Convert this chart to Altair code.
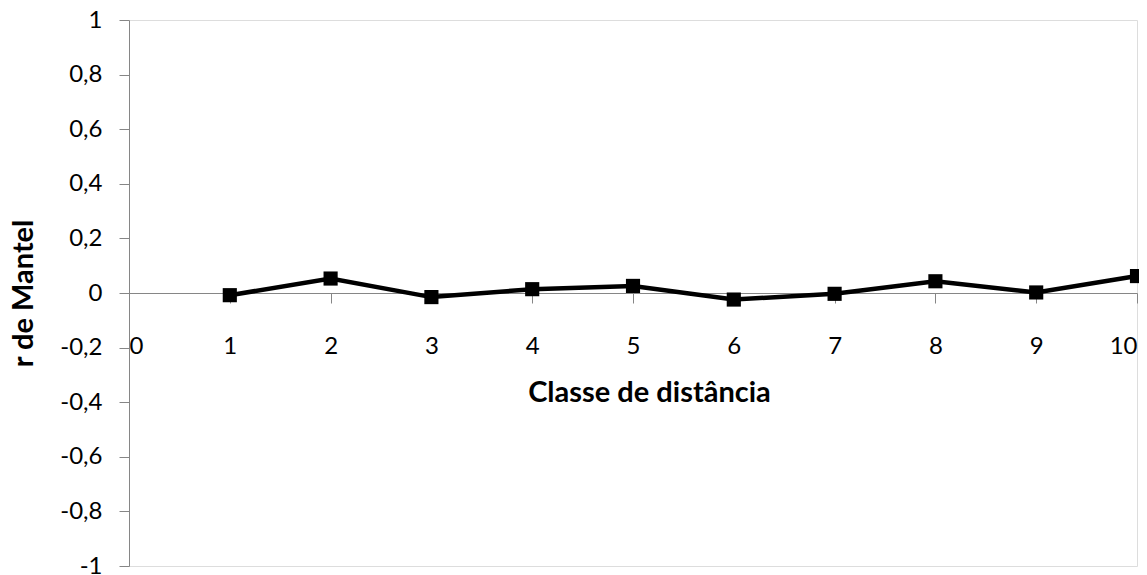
import altair as alt
import pandas as pd

classes = [1, 2, 3, 4, 5, 6, 7, 8, 9, 10]
r_mantel = [-0.008, 0.053, -0.015, 0.014, 0.026, -0.024, -0.003, 0.043, 0.002, 0.062]

df = pd.DataFrame({"classe": classes, "r": r_mantel})

FONT = "Lato"
AXIS_COLOR = "#868686"

x_enc = alt.X(
    "classe:Q",
    scale=alt.Scale(domain=[0, 10], nice=False, zero=False),
    axis=alt.Axis(
        title="Classe de distância",
        values=list(range(0, 11)),
        format="d",
        grid=False,
        offset=-273,
        domainColor=AXIS_COLOR,
        tickColor=AXIS_COLOR,
        tickSize=10,
        labelPadding=31,
        labelFontSize=24,
        labelFont=FONT,
        labelColor="#000000",
        titleFont=FONT,
        titleFontSize=29,
        titleFontWeight="bold",
        titleColor="#000000",
        titleBaseline="alphabetic",
        titleX=520,
        titleY=108,
    ),
)

y_enc = alt.Y(
    "r:Q",
    scale=alt.Scale(domain=[-1, 1], nice=False, zero=False),
    axis=alt.Axis(
        title="r de Mantel",
        values=[-1, -0.8, -0.6, -0.4, -0.2, 0, 0.2, 0.4, 0.6, 0.8, 1],
        labelExpr="replace(replace(format(datum.value, '~g'), '.', ','), '\u2212', '-')",
        grid=False,
        domainColor=AXIS_COLOR,
        tickColor=AXIS_COLOR,
        tickSize=10,
        labelPadding=17,
        labelFontSize=24,
        labelFont=FONT,
        labelColor="#000000",
        titleFont=FONT,
        titleFontSize=29,
        titleFontWeight="bold",
        titleColor="#000000",
        titleAngle=270,
        titleBaseline="alphabetic",
        titleAlign="center",
        titleX=-97,
        titleY=273,
    ),
)

base = alt.Chart(df).encode(x=x_enc, y=y_enc)
line = base.mark_line(color="#000000", strokeWidth=4.5)
pts = base.mark_square(color="#000000", size=200, opacity=1)

chart = (
    alt.layer(line, pts)
    .properties(
        width=1008,
        height=546,
        padding={"left": 121, "top": 12, "right": 2, "bottom": 9},
        autosize=alt.AutoSizeParams(type="none"),
    )
    .configure_view(stroke=None)
    .configure(background="#ffffff")
)

chart.save("out.html", embed_options={"renderer": "svg", "actions": False})
